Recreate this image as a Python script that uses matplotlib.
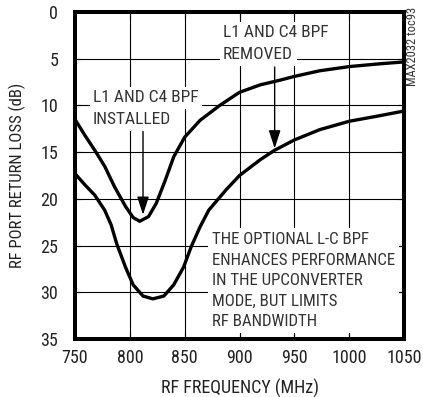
import matplotlib
matplotlib.use("Agg")
import matplotlib.pyplot as plt

plt.rcParams["font.family"] = ["Roboto Condensed", "Liberation Sans", "DejaVu Sans"]

# Curve with L1/C4 band-pass filter installed (narrow dip)
freq_installed = [750, 759, 768, 777, 786, 796, 803, 809, 817, 824, 832, 840,
                  850, 864, 882, 900, 919, 937, 950, 973, 1000, 1028, 1050]
loss_installed = [11.5, 13.2, 14.8, 16.5, 18.7, 20.8, 22.0, 22.4, 21.9, 20.5, 18.1, 15.5,
                  13.4, 11.6, 10.0, 8.6, 7.8, 7.3, 6.9, 6.3, 5.85, 5.55, 5.35]

# Curve with L1/C4 band-pass filter removed (broad dip)
freq_removed = [750, 759, 768, 777, 783, 788, 796, 803, 812, 821, 831, 840, 849,
                856, 864, 872, 888, 900, 919, 932, 950, 973, 1000, 1028, 1050]
loss_removed = [17.3, 18.5, 19.6, 21.2, 22.8, 24.8, 27.3, 29.2, 30.4, 30.7, 30.4, 29.2, 27.3,
                25.1, 23.0, 21.2, 19.0, 17.5, 15.8, 14.8, 13.7, 12.6, 11.7, 11.1, 10.6]

x_ticks = [750, 800, 850, 900, 950, 1000, 1050]
y_ticks = [0, 5, 10, 15, 20, 25, 30, 35]

note_text = ("THE OPTIONAL L-C BPF\nENHANCES PERFORMANCE\nIN THE UPCONVERTER\n"
             "MODE, BUT LIMITS\nRF BANDWIDTH")

fig = plt.figure(figsize=(4.23, 3.97), dpi=100)
ax = fig.add_axes([0.1773, 0.146, 0.778, 0.824])

ax.set_xlim(750, 1050)
ax.set_ylim(35, 0)
ax.set_xticks(x_ticks)
ax.set_yticks(y_ticks)

# grid drawn by hand so the text boxes can sit over it
for x in x_ticks[1:-1]:
    ax.axvline(x, color="black", lw=0.8, zorder=1)
for y in y_ticks[1:-1]:
    ax.axhline(y, color="black", lw=0.8, zorder=1)

ax.plot(freq_installed, loss_installed, color="black", lw=2.4,
        solid_joinstyle="round", solid_capstyle="round", zorder=4)
ax.plot(freq_removed, loss_removed, color="black", lw=2.4,
        solid_joinstyle="round", solid_capstyle="round", zorder=4)

box = dict(facecolor="white", edgecolor="none", pad=2.5)
txt_color = "#333333"

# Labels and arrows
ax.text(885, 2.25, "L1 AND C4 BPF", ha="left", va="center", fontsize=12.5,
        color=txt_color, bbox=box, zorder=2)
ax.text(885, 4.6, "REMOVED", ha="left", va="center", fontsize=12.5,
        color=txt_color, bbox=box, zorder=2)
ax.text(766.5, 9.2, "L1 AND C4 BPF", ha="left", va="center", fontsize=12.5,
        color=txt_color, bbox=box, zorder=2)
ax.text(766.5, 11.55, "INSTALLED", ha="left", va="center", fontsize=12.5,
        color=txt_color, bbox=box, zorder=2)

ax.text(875, 28.75, note_text, ha="left", va="center", fontsize=12.2,
        color=txt_color, linespacing=1.45,
        bbox=dict(facecolor="white", edgecolor="none", pad=3), zorder=2)

arrow = dict(arrowstyle="-|>,head_length=1.1,head_width=0.36", color="black",
             lw=1.0, mutation_scale=10, shrinkA=0, shrinkB=0)
ax.annotate("", xy=(932, 14.6), xytext=(932, 5.9), arrowprops=arrow, zorder=5)
ax.annotate("", xy=(812, 21.7), xytext=(812, 12.8), arrowprops=arrow, zorder=5)

for s in ax.spines.values():
    s.set_linewidth(2.9)
    s.set_zorder(6)

ax.tick_params(axis="both", direction="in", length=4, width=0.8,
               labelsize=13, top=True, right=True, colors="black")
ax.tick_params(axis="x", pad=7)
ax.tick_params(axis="y", pad=12)
for lbl in ax.get_xticklabels() + ax.get_yticklabels():
    lbl.set_color("#222222")

ax.set_xlabel("RF FREQUENCY (MHz)", fontsize=13, color="#222222", labelpad=9)
ax.set_ylabel("RF PORT RETURN LOSS (dB)", fontsize=12, color="#222222")
ax.yaxis.set_label_coords(-0.15, 0.5)

fig.text(0.976, 0.882, "MAX2032 toc93", rotation=90, ha="center", va="center",
         fontsize=9, color="#333333")

fig.savefig("out.png", dpi=100)
